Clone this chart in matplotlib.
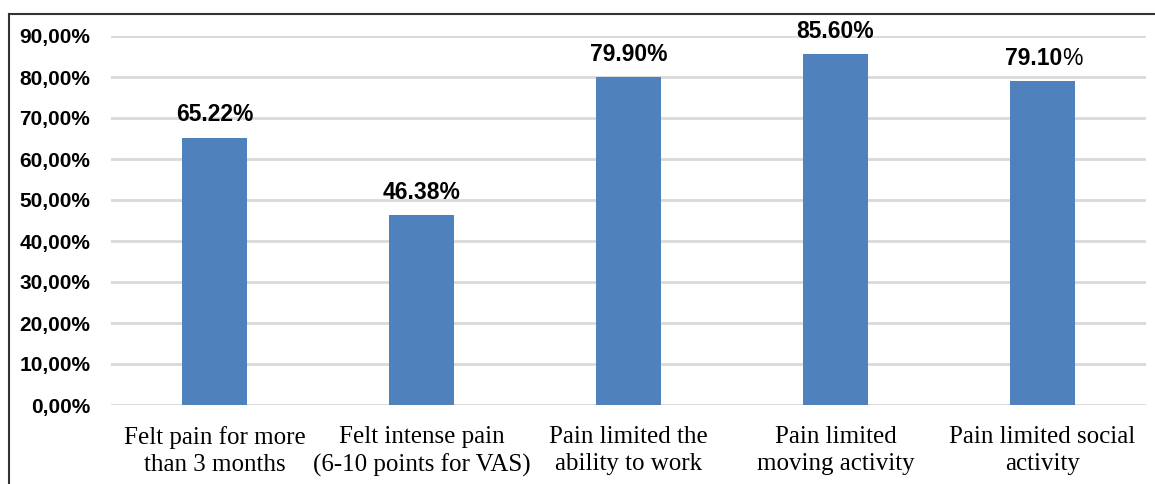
import matplotlib.pyplot as plt
import numpy as np
from matplotlib.ticker import FuncFormatter

categories = ['Felt pain for more\nthan 3 months',
              'Felt intense pain\n(6-10 points for VAS)',
              'Pain limited the\nability to work',
              'Pain limited\nmoving activity',
              'Pain limited social\nactivity']
values = [65.22, 46.38, 79.90, 85.60, 79.10]
labels = ['65.22%', '46.38%', '79.90%', '85.60%', '79.10%']
yticks = [0, 10, 20, 30, 40, 50, 60, 70, 80, 90]

fig = plt.figure(figsize=(11.55, 4.84), dpi=100)
ax = fig.add_axes([111/1155, 1-405/484, (1146-111)/1155, (405-36)/484])

x = np.arange(len(values))
ax.bar(x, values, width=0.315, color='#4f81bd', zorder=3)

ax.set_xlim(-0.5, len(values)-0.5)
ax.set_ylim(0, 90)
ax.set_yticks(yticks)
ax.yaxis.set_major_formatter(FuncFormatter(lambda v, p: '%d,00%%' % v))
ax.grid(axis='y', color='#d9d9d9', linewidth=2, zorder=0)
for s in ax.spines.values():
    s.set_visible(False)
ax.tick_params(axis='both', length=0)
ax.tick_params(axis='y', pad=15)
ax.tick_params(axis='x', pad=15)
for t in ax.get_yticklabels():
    t.set_fontfamily('Liberation Sans')
    t.set_fontweight('bold')
    t.set_fontsize(15)
ax.set_xticks(x)
ax.set_xticklabels(categories, fontfamily='Liberation Serif', fontsize=18,
                   linespacing=1.3)

for i, (v, lab) in enumerate(zip(values, labels)):
    if i == len(values) - 1:
        # last label: number bold, percent sign regular
        t = ax.annotate(lab[:-1], (i, v), xytext=(-6.5, 8), textcoords='offset points',
                        ha='center', va='bottom', fontfamily='Liberation Sans',
                        fontweight='bold', fontsize=16.5)
        ax.annotate('%', xy=(1, 0), xycoords=t, ha='left', va='bottom',
                    fontfamily='Liberation Sans', fontsize=16.5)
    else:
        ax.annotate(lab, (i, v), xytext=(0, 8), textcoords='offset points',
                    ha='center', va='bottom', fontfamily='Liberation Sans',
                    fontweight='bold', fontsize=16.5)

# outer frame (left and top edges)
fig.add_artist(plt.Line2D([9/1155, 9/1155], [0, 1-14/484], color='#333333',
                          linewidth=1.5, transform=fig.transFigure))
fig.add_artist(plt.Line2D([9/1155, 1], [1-14/484, 1-14/484], color='#333333',
                          linewidth=1.5, transform=fig.transFigure))

fig.savefig('out.png', dpi=100)
